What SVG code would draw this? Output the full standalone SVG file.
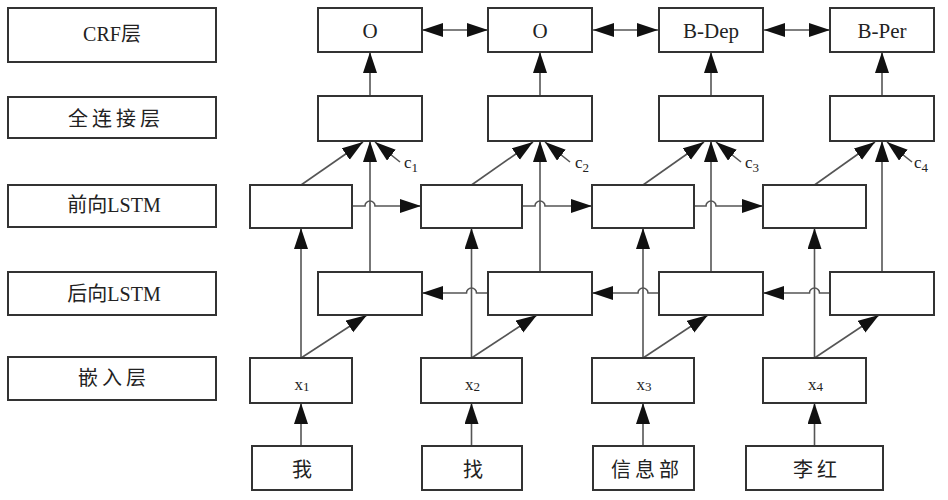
<svg xmlns="http://www.w3.org/2000/svg" width="948" height="500" viewBox="0 0 948 500">
<style>
.box{fill:#fff;stroke:#333;stroke-width:2}
.t{font-family:"Liberation Serif","Noto Sans CJK SC",serif;font-size:21px;fill:#222;text-anchor:middle}
.cj{font-family:"Noto Sans CJK SC","Liberation Serif",sans-serif;font-size:20px;fill:#222;text-anchor:middle;letter-spacing:4px}
.lb{font-family:"Liberation Serif","Noto Sans CJK SC",serif;font-size:20px;fill:#222;text-anchor:middle}
.sm{font-family:"Liberation Serif",serif;font-size:17px;fill:#222;text-anchor:middle}
.c{font-family:"Liberation Serif",serif;font-size:17px;fill:#222}
.ln{fill:none;stroke:#555;stroke-width:1.6}
.ar{marker-end:url(#ah)}
.da{marker-start:url(#ah);marker-end:url(#ah)}
</style>
<defs>
<marker id="ah" markerUnits="userSpaceOnUse" markerWidth="22" markerHeight="15" refX="21" refY="7" orient="auto-start-reverse">
<path d="M0,0 L21,7 L0,14 z" fill="#111"/>
</marker>
</defs>

<g id="legend">
<g id="lg-crf"><rect class="box" x="8" y="8" width="208" height="54"/><text class="lb" x="112" y="41">CRF层</text></g>
<g id="lg-fc"><rect class="box" x="8" y="97" width="208" height="41"/><text class="cj" x="116" y="126">全连接层</text></g>
<g id="lg-fwd"><rect class="box" x="8" y="185" width="208" height="42"/><text class="lb" x="114" y="212">前向LSTM</text></g>
<g id="lg-bwd"><rect class="box" x="8" y="272" width="208" height="43"/><text class="lb" x="114" y="301">后向LSTM</text></g>
<g id="lg-emb"><rect class="box" x="8" y="357" width="208" height="43"/><text class="cj" x="114" y="385">嵌入层</text></g>
</g>

<g id="connectors">
<!-- word to embedding -->
<line class="ln ar" x1="301" y1="446" x2="301" y2="403"/>
<line class="ln ar" x1="471.5" y1="446" x2="471.5" y2="403"/>
<line class="ln ar" x1="643" y1="446" x2="643" y2="403"/>
<line class="ln ar" x1="814.5" y1="446" x2="814.5" y2="403"/>
<!-- embedding to forward -->
<line class="ln ar" x1="301" y1="358" x2="301" y2="228"/>
<line class="ln ar" x1="471.5" y1="358" x2="471.5" y2="228"/>
<line class="ln ar" x1="643" y1="358" x2="643" y2="228"/>
<line class="ln ar" x1="814.5" y1="358" x2="814.5" y2="228"/>
<!-- embedding to backward -->
<line class="ln ar" x1="301" y1="358" x2="367" y2="315"/>
<line class="ln ar" x1="471.5" y1="358" x2="537" y2="315"/>
<line class="ln ar" x1="643" y1="358" x2="708" y2="315"/>
<line class="ln ar" x1="814.5" y1="358" x2="879" y2="315"/>
<!-- backward to FC -->
<line class="ln ar" x1="370" y1="272" x2="370" y2="141"/>
<line class="ln ar" x1="540" y1="272" x2="540" y2="141"/>
<line class="ln ar" x1="711" y1="272" x2="711" y2="141"/>
<line class="ln ar" x1="882" y1="272" x2="882" y2="141"/>
<!-- forward to FC -->
<line class="ln ar" x1="301" y1="185" x2="363" y2="142"/>
<line class="ln ar" x1="471.5" y1="185" x2="533" y2="142"/>
<line class="ln ar" x1="643" y1="185" x2="704" y2="142"/>
<line class="ln ar" x1="814.5" y1="185" x2="875" y2="142"/>
<!-- c to FC -->
<line class="ln ar" x1="400" y1="162" x2="375" y2="142"/>
<line class="ln ar" x1="570" y1="162" x2="545" y2="142"/>
<line class="ln ar" x1="741" y1="162" x2="716" y2="142"/>
<line class="ln ar" x1="912" y1="162" x2="887" y2="142"/>
<!-- FC to CRF -->
<line class="ln ar" x1="370" y1="96" x2="370" y2="52"/>
<line class="ln ar" x1="540" y1="96" x2="540" y2="52"/>
<line class="ln ar" x1="711" y1="96" x2="711" y2="52"/>
<line class="ln ar" x1="882" y1="96" x2="882" y2="52"/>
<!-- CRF double arrows -->
<line class="ln da" x1="422" y1="30" x2="488" y2="30"/>
<line class="ln da" x1="593" y1="30" x2="658" y2="30"/>
<line class="ln da" x1="764" y1="30" x2="830" y2="30"/>
<!-- forward chain -->
<path class="ln ar" d="M352,206 H365 A5,5 0 0 1 375,206 H421"/>
<path class="ln ar" d="M522.5,206 H535 A5,5 0 0 1 545,206 H592"/>
<path class="ln ar" d="M694,206 H706 A5,5 0 0 1 716,206 H763"/>
<!-- backward chain -->
<path class="ln ar" d="M488,293 H476.5 A5,5 0 0 0 466.5,293 H422"/>
<path class="ln ar" d="M659,293 H648 A5,5 0 0 0 638,293 H592"/>
<path class="ln ar" d="M830,293 H819.5 A5,5 0 0 0 809.5,293 H763"/>
</g>

<g id="crf1"><rect class="box" x="318" y="8" width="104" height="44"/><text class="t" x="370" y="38">O</text></g>
<g id="crf2"><rect class="box" x="488" y="8" width="104" height="44"/><text class="t" x="540" y="38">O</text></g>
<g id="crf3"><rect class="box" x="659" y="8" width="104" height="44"/><text class="t" x="711" y="38">B-Dep</text></g>
<g id="crf4"><rect class="box" x="830" y="8" width="104" height="44"/><text class="t" x="882" y="38">B-Per</text></g>

<g id="fc1"><rect class="box" x="318" y="96" width="104" height="45"/></g>
<g id="fc2"><rect class="box" x="488" y="96" width="104" height="45"/></g>
<g id="fc3"><rect class="box" x="659" y="96" width="104" height="45"/></g>
<g id="fc4"><rect class="box" x="830" y="96" width="104" height="45"/></g>

<g id="clabels">
<text class="c" x="404" y="168">c<tspan font-size="13" dy="4">1</tspan></text>
<text class="c" x="575" y="168">c<tspan font-size="13" dy="4">2</tspan></text>
<text class="c" x="745" y="168">c<tspan font-size="13" dy="4">3</tspan></text>
<text class="c" x="914" y="168">c<tspan font-size="13" dy="4">4</tspan></text>
</g>

<g id="fwd1"><rect class="box" x="250" y="185" width="102" height="43"/></g>
<g id="fwd2"><rect class="box" x="421" y="185" width="101" height="43"/></g>
<g id="fwd3"><rect class="box" x="592" y="185" width="102" height="43"/></g>
<g id="fwd4"><rect class="box" x="763" y="185" width="103" height="43"/></g>

<g id="bwd1"><rect class="box" x="318" y="272" width="104" height="43"/></g>
<g id="bwd2"><rect class="box" x="488" y="272" width="104" height="43"/></g>
<g id="bwd3"><rect class="box" x="659" y="272" width="104" height="43"/></g>
<g id="bwd4"><rect class="box" x="830" y="272" width="104" height="43"/></g>

<g id="emb1"><rect class="box" x="250" y="358" width="102" height="45"/><text class="sm" x="302" y="390">x<tspan font-size="13" dy="1">1</tspan></text></g>
<g id="emb2"><rect class="box" x="421" y="358" width="101" height="45"/><text class="sm" x="472.5" y="390">x<tspan font-size="13" dy="1">2</tspan></text></g>
<g id="emb3"><rect class="box" x="592" y="358" width="102" height="45"/><text class="sm" x="644" y="390">x<tspan font-size="13" dy="1">3</tspan></text></g>
<g id="emb4"><rect class="box" x="763" y="358" width="103" height="45"/><text class="sm" x="815.5" y="390">x<tspan font-size="13" dy="1">4</tspan></text></g>

<g id="w1"><rect class="box" x="252" y="446" width="100" height="44"/><text class="cj" x="304" y="477">我</text></g>
<g id="w2"><rect class="box" x="422" y="446" width="100" height="44"/><text class="cj" x="475" y="477">找</text></g>
<g id="w3"><rect class="box" x="593" y="446" width="101" height="44"/><text class="cj" x="647" y="477">信息部</text></g>
<g id="w4"><rect class="box" x="746" y="446" width="137" height="44"/><text class="cj" x="817" y="477">李红</text></g>
</svg>
